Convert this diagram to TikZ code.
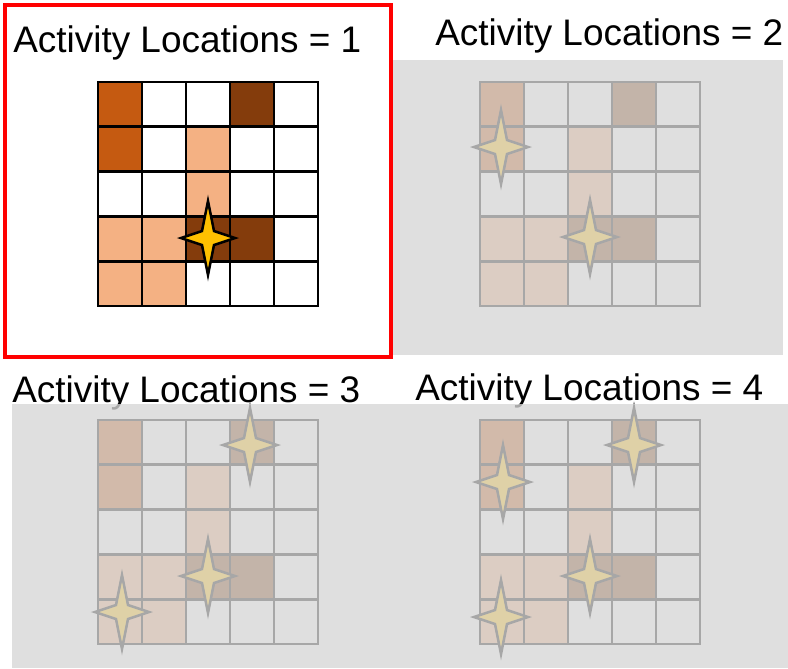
\documentclass[tikz,border=0pt]{standalone}
\usepackage{fontspec}
\setmainfont{Liberation Sans}
\definecolor{DarkOrange}{HTML}{C55A11}
\definecolor{Brown}{HTML}{843C0C}
\definecolor{LightOrange}{HTML}{F4B183}
\definecolor{Gold}{HTML}{FFC000}
\definecolor{FrameRed}{HTML}{FF0000}
\definecolor{Veil}{HTML}{D6D6D6}

% one 5x5 land-use grid, upper left corner at the origin
\newcommand{\landuse}{%
  \fill[white] (0,0) rectangle (220,224);
  \foreach \c/\r/\col in {0/0/DarkOrange,3/0/Brown,0/1/DarkOrange,
      2/1/LightOrange,2/2/LightOrange,0/3/LightOrange,1/3/LightOrange,
      2/3/Brown,3/3/Brown,0/4/LightOrange,1/4/LightOrange}
    \fill[\col] (\c*44,\r*44.8) rectangle ++(44,44.8);
  \foreach \i in {0,...,5}{
    \draw[gridline] (\i*44,0)--(\i*44,224);
    \draw[gridline] (0,\i*44.8)--(220,\i*44.8);
  }
}

\begin{document}
\begin{tikzpicture}[x=0.75pt,y=-0.75pt,
  heading/.style={anchor=base west,inner sep=0pt,font=\fontsize{27.7}{33}\selectfont},
  gridline/.style={line width=2.2pt,line cap=rect},
  spark/.style={fill=Gold,draw=black,line width=1.9pt,line join=miter},
  veil/.style={fill=Veil,fill opacity=0.78},
  sparkle/.pic={
    \path[pic actions] (0,-37) -- (6,-7) -- (27,0) -- (6,7) -- (0,37)
      -- (-6,7) -- (-27,0) -- (-6,-7) -- cycle;
  }]
  \useasboundingbox (0,0) rectangle (788,668);

  % titles
  \node[heading] (head1) at (13,52) {Activity Locations = 1};
  \node[heading] (head2) at (435,45) {Activity Locations = 2};
  \node[heading] (head3) at (12,402) {Activity Locations = 3};
  \node[heading] (head4) at (415,400) {Activity Locations = 4};

  % grids
  \begin{scope}[shift={(98,82)}] \landuse \end{scope}
  \begin{scope}[shift={(480,82)}] \landuse \end{scope}
  \begin{scope}[shift={(98,420)}] \landuse \end{scope}
  \begin{scope}[shift={(480,420)}] \landuse \end{scope}

  % activity locations
  \foreach \p in {(208,238),(501,147),(590,237),(250,445),(208,576),
      (122,612),(634,445),(503,482),(590,576),(501,617)}
    \pic[spark] at \p {sparkle};

  % fade the other cases
  \fill[veil] (393,60) rectangle (783,355);
  \fill[veil] (12,404) rectangle (788,668);

  \draw[FrameRed,line width=3pt] (5,5) rectangle (390.5,356.5);
\end{tikzpicture}
\end{document}
